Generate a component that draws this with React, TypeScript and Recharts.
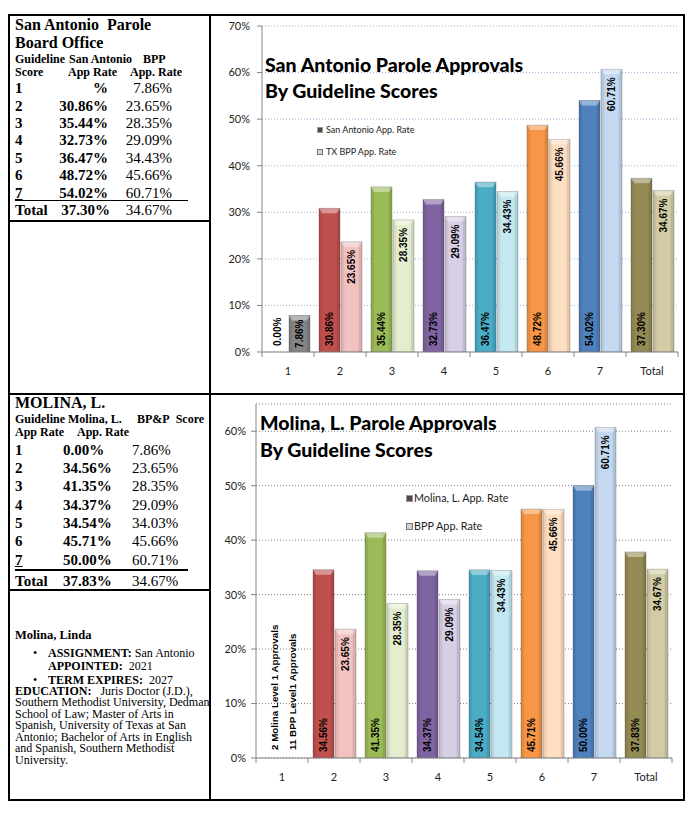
import React from "react";
import {
  Bar,
  BarChart,
  CartesianGrid,
  Cell,
  LabelList,
  XAxis,
  YAxis,
} from "recharts";

// ---- data ----
const categories = ["1", "2", "3", "4", "5", "6", "7", "Total"];

// San Antonio office (top chart)
const saRate = [0, 30.86, 35.44, 32.73, 36.47, 48.72, 54.02, 37.3];
const bppRate = [7.86, 23.65, 28.35, 29.09, 34.43, 45.66, 60.71, 34.67];

// Molina, L. (bottom chart) - level 1 left out of the chart
const molinaRate = [null, 34.56, 41.35, 34.37, 34.54, 45.71, 50.0, 37.83];
const molinaBpp = [null, 23.65, 28.35, 29.09, 34.43, 45.66, 60.71, 34.67];

// table text
const saTableRate = ["%", "30.86%", "35.44%", "32.73%", "36.47%", "48.72%", "54.02%"];
const saTableBpp = ["7.86%", "23.65%", "28.35%", "29.09%", "34.43%", "45.66%", "60.71%"];
const molTableRate = ["0.00%", "34.56%", "41.35%", "34.37%", "34.54%", "45.71%", "50.00%"];
const molTableBpp = ["7.86%", "23.65%", "28.35%", "29.09%", "34.03%", "45.66%", "60.71%"];

const topTicks = [0, 10, 20, 30, 40, 50, 60, 70];
const bottomTicks = [0, 10, 20, 30, 40, 50, 60];

const darkColors = ["#6E6E6E", "#C0504D", "#9BBB59", "#8064A2", "#4BACC6", "#F79646", "#4F81BD", "#948A54"];
const lightColors = ["#858585", "#F2C2C1", "#E4EECF", "#D7CFE5", "#C4E8F2", "#FDDEC1", "#C4D8F0", "#D3CBA6"];

const topData = categories.map((c, i) => ({ cat: c, a: saRate[i], b: bppRate[i] }));
const bottomData = categories.map((c, i) => ({ cat: c, a: molinaRate[i], b: molinaBpp[i] }));

const serif = "'Liberation Serif', 'Times New Roman', serif";
const chartFont = "Lato, 'Open Sans', sans-serif";
const labelFont = "'Liberation Sans', Arial, sans-serif";

function BevelBar(props: any) {
  const { x, y, width, height, fill } = props;
  if (!height || height <= 0) return null;
  const cap = Math.min(5, height);
  return (
    <g>
      <rect x={x} y={y} width={width} height={height} fill={fill} stroke="rgba(0,0,0,0.28)" strokeWidth={0.8} />
      <rect x={x} y={y} width={width * 0.16} height={height} fill="rgba(0,0,0,0.07)" />
      <rect x={x + width * 0.84} y={y} width={width * 0.16} height={height} fill="rgba(0,0,0,0.1)" />
      <polygon
        points={`${x},${y} ${x + width},${y} ${x + width - 3},${y + cap} ${x + 3},${y + cap}`}
        fill="rgba(255,255,255,0.4)"
      />
    </g>
  );
}

const fmt = (v: number) => `${v.toFixed(2)}%`;

function BottomLabel(props: any) {
  const { x, y, width, height, value } = props;
  if (value === null || value === undefined) return null;
  const cx = x + width / 2;
  const base = y + height - 6;
  return (
    <text
      x={cx}
      y={base}
      transform={`rotate(-90 ${cx} ${base})`}
      textAnchor="start"
      dominantBaseline="central"
      fontFamily={labelFont}
      fontWeight="bold"
      fontSize={10}
      fill="#000"
    >
      {fmt(value)}
    </text>
  );
}

function TopLabel(props: any) {
  const { x, y, width, height, value } = props;
  if (value === null || value === undefined) return null;
  const cx = x + width / 2;
  const short = height < 50;
  const ty = short ? y + height / 2 : y + 8;
  return (
    <text
      x={cx}
      y={ty}
      transform={`rotate(-90 ${cx} ${ty})`}
      textAnchor={short ? "middle" : "end"}
      dominantBaseline="central"
      fontFamily={labelFont}
      fontWeight="bold"
      fontSize={10}
      fill="#000"
    >
      {fmt(value)}
    </text>
  );
}

function CatTick(props: any) {
  const { x, y, payload, index, band, count } = props;
  const left = x - band / 2;
  return (
    <g>
      <line x1={left} y1={y} x2={left} y2={y + 5} stroke="#868686" />
      {index === count - 1 && <line x1={x + band / 2} y1={y} x2={x + band / 2} y2={y + 5} stroke="#868686" />}
      <text x={x} y={y + 18} textAnchor="middle" dominantBaseline="central" fontFamily={chartFont} fontSize={11} fill="#222">
        {payload.value}
      </text>
    </g>
  );
}

type ChartProps = {
  data: any[];
  width: number;
  height: number;
  margin: { top: number; right: number; bottom: number; left: number };
  yWidth: number;
  max: number;
  ticks: number[];
  gridColor: string;
  tickMargin: number;
};

function ParoleChart({ data, width, height, margin, yWidth, max, ticks, gridColor, tickMargin }: ChartProps) {
  const band = (width - margin.left - margin.right - yWidth) / data.length;
  return (
    <BarChart width={width} height={height} data={data} margin={margin} barCategoryGap={5} barGap={1}>
      <CartesianGrid horizontal vertical={false} stroke={gridColor} strokeDasharray="1 2" />
      <XAxis
        dataKey="cat"
        height={42}
        tickLine={false}
        tickSize={0}
        tickMargin={0}
        stroke="#868686"
        interval={0}
        tick={(p: any) => <CatTick {...p} band={band} count={data.length} />}
      />
      <YAxis
        width={yWidth}
        domain={[0, max]}
        ticks={ticks}
        allowDataOverflow
        tickFormatter={(v: number) => `${v}%`}
        stroke="#868686"
        tickSize={5}
        tickMargin={tickMargin}
        tick={{ fill: "#222", fontSize: 11, fontFamily: chartFont }}
      />
      <Bar dataKey="a" isAnimationActive={false} shape={<BevelBar />}>
        {data.map((_, i) => (
          <Cell key={i} fill={darkColors[i]} />
        ))}
        <LabelList dataKey="a" content={<BottomLabel />} />
      </Bar>
      <Bar dataKey="b" isAnimationActive={false} shape={<BevelBar />}>
        {data.map((_, i) => (
          <Cell key={i} fill={lightColors[i]} />
        ))}
        <LabelList dataKey="b" content={<TopLabel />} />
      </Bar>
    </BarChart>
  );
}

const abs = (left: number, top: number, extra: React.CSSProperties = {}): React.CSSProperties => ({
  position: "absolute",
  left,
  top,
  whiteSpace: "nowrap",
  ...extra,
});

// place text so its vertical center sits at cy
function T({ x, cy, size, bold, right, children, style, lh }: any) {
  const h = lh ?? size + 2;
  const s: React.CSSProperties = {
    position: "absolute",
    top: cy - h / 2,
    lineHeight: `${h}px`,
    fontSize: size,
    fontWeight: bold ? "bold" : "normal",
    fontFamily: serif,
    whiteSpace: "nowrap",
    ...style,
  };
  if (right) s.right = 695 - x;
  else s.left = x;
  return <div style={s}>{children}</div>;
}

function Line({ x, y, w, h, color = "#000" }: any) {
  return <div style={{ position: "absolute", left: x, top: y, width: w, height: h, background: color }} />;
}

const bioLines = [
  "Southern Methodist University, Dedman",
  "School of Law; Master of Arts in",
  "Spanish, University of Texas at San",
  "Antonio; Bachelor of Arts in English",
  "and Spanish, Southern Methodist",
  "University.",
];

export default function App() {
  const saRows = [88, 106, 123, 140, 158, 175, 193];
  const molRows = [450, 468, 486, 505, 523, 541, 560];
  return (
    <div style={{ position: "absolute", left: 0, top: 0, width: 695, height: 815, background: "#fff", color: "#000", overflow: "hidden" }}>
      {/* table frame */}
      <Line x={8} y={14} w={677} h={2} />
      <Line x={8} y={799} w={677} h={2} />
      <Line x={8} y={14} w={2} h={787} />
      <Line x={683} y={14} w={2} h={787} />
      <Line x={209} y={14} w={2} h={787} />
      <Line x={8} y={393} w={677} h={2} />
      <Line x={8} y={220} w={202} h={1.5} />
      <Line x={8} y={589} w={202} h={1.5} />

      {/* San Antonio table */}
      <T x={15} cy={25} size={16} bold>San Antonio&nbsp; Parole</T>
      <T x={15} cy={43} size={16} bold>Board Office</T>
      <T x={15} cy={59} size={12} bold lh={12}>Guideline</T>
      <T x={69} cy={59} size={12} bold lh={12}>San Antonio</T>
      <T x={143} cy={59} size={12} bold lh={12}>BPP</T>
      <T x={15} cy={72} size={12} bold lh={12}>Score</T>
      <T x={68} cy={72} size={12} bold lh={12}>App Rate</T>
      <T x={130} cy={72} size={12} bold lh={12}>App. Rate</T>
      {saRows.map((cy, i) => (
        <React.Fragment key={i}>
          <T x={15} cy={cy} size={15} bold style={i === 6 ? { textDecoration: "underline" } : undefined}>{categories[i]}</T>
          <T x={108} cy={cy} size={15} bold right>{saTableRate[i]}</T>
          <T x={172} cy={cy} size={15} right>{saTableBpp[i]}</T>
        </React.Fragment>
      ))}
      <Line x={15} y={200} w={173} h={1.2} />
      <T x={15} cy={210} size={15} bold>Total</T>
      <T x={110} cy={210} size={15} bold right>37.30%</T>
      <T x={172} cy={210} size={15} right>34.67%</T>

      {/* Molina table */}
      <T x={15} cy={403} size={16} bold>MOLINA, L.</T>
      <T x={15} cy={419} size={12} bold lh={12}>Guideline</T>
      <T x={68} cy={419} size={12} bold lh={12}>Molina, L.</T>
      <T x={137} cy={419} size={12} bold lh={12}>BP&amp;P&nbsp; Score</T>
      <T x={15} cy={432} size={12} bold lh={12}>App Rate</T>
      <T x={77} cy={432} size={12} bold lh={12}>App. Rate</T>
      {molRows.map((cy, i) => (
        <React.Fragment key={i}>
          <T x={15} cy={cy} size={15} bold style={i === 6 ? { textDecoration: "underline" } : undefined}>{categories[i]}</T>
          <T x={63} cy={cy} size={15} bold>{molTableRate[i]}</T>
          <T x={132} cy={cy} size={15}>{molTableBpp[i]}</T>
        </React.Fragment>
      ))}
      <Line x={15} y={569} w={173} h={2} />
      <T x={15} cy={581} size={15} bold>Total</T>
      <T x={63} cy={581} size={15} bold>37.83%</T>
      <T x={132} cy={581} size={15}>34.67%</T>

      {/* bio */}
      <T x={15} cy={635} size={12.5} bold>Molina, Linda</T>
      <T x={33} cy={653} size={12} lh={12}>•</T>
      <T x={48} cy={653} size={12} lh={12}><b>ASSIGNMENT:</b> San Antonio</T>
      <T x={48} cy={666} size={12} lh={12}><b>APPOINTED:</b>&nbsp; 2021</T>
      <T x={33} cy={680} size={12} lh={10.5}>•</T>
      <T x={48} cy={680} size={12} lh={10.5}><b>TERM EXPIRES:</b>&nbsp; 2027</T>
      <T x={15} cy={691} size={12} lh={10.5}><b>EDUCATION:</b>&nbsp;&nbsp; Juris Doctor (J.D.),</T>
      {bioLines.map((t, i) => (
        <T key={i} x={15} cy={702.5 + i * 11.6} size={12} lh={11}>{t}</T>
      ))}

      {/* top chart */}
      <div style={abs(210, 15)}>
        <ParoleChart
          data={topData}
          width={474}
          height={379}
          margin={{ top: 11, right: 6, bottom: 0, left: 0 }}
          yWidth={52}
          max={70}
          ticks={topTicks}
          gridColor="#95B3D7"
          tickMargin={7}
        />
      </div>
      <div style={abs(265, 52, { fontFamily: chartFont, fontWeight: 900, fontSize: 19.5, lineHeight: "26px", color: "#000" })}>
        San Antonio Parole Approvals
        <br />
        By Guideline Scores
      </div>
      <div style={abs(317, 127, { width: 6, height: 6, background: "#4A4A4A", border: "1px solid #999", boxSizing: "border-box" })} />
      <div style={abs(326, 124, { fontFamily: chartFont, fontSize: 9, lineHeight: "12px", color: "#222" })}>San Antonio App. Rate</div>
      <div style={abs(317, 149, { width: 6, height: 6, background: "#D0D0D0", border: "1px solid #777", boxSizing: "border-box" })} />
      <div style={abs(326, 146, { fontFamily: chartFont, fontSize: 9, lineHeight: "12px", color: "#222" })}>TX BPP App. Rate</div>

      {/* bottom chart */}
      <div style={abs(210, 394)}>
        <ParoleChart
          data={bottomData}
          width={474}
          height={406}
          margin={{ top: 10, right: 12, bottom: 0, left: 0 }}
          yWidth={46}
          max={65}
          ticks={bottomTicks}
          gridColor="#7F7F7F"
          tickMargin={5}
        />
      </div>
      <div style={abs(260, 409, { fontFamily: chartFont, fontWeight: 900, fontSize: 19.5, lineHeight: "27px", color: "#000" })}>
        Molina, L. Parole Approvals
        <br />
        By Guideline Scores
      </div>
      <div style={abs(406, 495, { width: 7, height: 7, background: "#4A4A4A", border: "1px solid #999", boxSizing: "border-box" })} />
      <div style={abs(414, 491, { fontFamily: chartFont, fontSize: 10.8, lineHeight: "14px", color: "#222" })}>Molina, L. App. Rate</div>
      <div style={abs(406, 523, { width: 7, height: 7, background: "#D0D0D0", border: "1px solid #777", boxSizing: "border-box" })} />
      <div style={abs(414, 519, { fontFamily: chartFont, fontSize: 10.8, lineHeight: "14px", color: "#222" })}>BPP App. Rate</div>

      <div style={abs(274, 750, { transform: "rotate(-90deg) translateY(-50%)", transformOrigin: "0 0", fontFamily: labelFont, fontWeight: "bold", fontSize: 9.8, lineHeight: "11px" })}>
        2 Molina Level 1 Approvals
      </div>
      <div style={abs(292, 750, { transform: "rotate(-90deg) translateY(-50%)", transformOrigin: "0 0", fontFamily: labelFont, fontWeight: "bold", fontSize: 9.8, lineHeight: "11px" })}>
        11 BPP Level1 Approvals
      </div>
    </div>
  );
}
